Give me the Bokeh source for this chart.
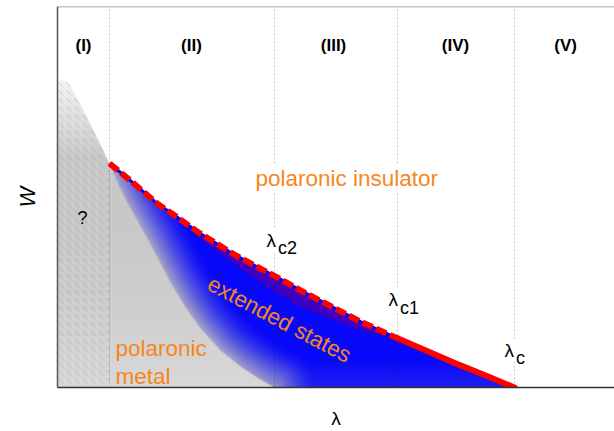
import numpy as np
from bokeh.plotting import figure
from bokeh.models import Range1d, FixedTicker, Span
from bokeh.embed import file_html
from bokeh.resources import INLINE
from bokeh.core.properties import value

# ---------------- data (lambda scaled so that lambda_c = 1, W scaled to frame top = 1) ----------------
lam_max = 1.2188
W_max = 1.0

# region boundaries: lambda_I, lambda_c2, lambda_c1, lambda_c
boundaries = [0.1138, 0.4748, 0.744, 1.0]
region_labels = ["(I)", "(II)", "(III)", "(IV)", "(V)"]
region_label_x = [0.0569, 0.293, 0.604, 0.871, 1.112]

# upper edge of the polaronic-metal (grey) region
metal_lam = [0.0, 0.0131, 0.0241, 0.0503, 0.0832, 0.1138, 0.1335, 0.1532, 0.1991,
             0.2473, 0.2801, 0.3129, 0.3567, 0.4004, 0.4442, 0.4748]
metal_W = [0.806, 0.808, 0.801, 0.743, 0.664, 0.588, 0.532, 0.484, 0.386,
           0.276, 0.210, 0.155, 0.097, 0.055, 0.021, 0.0]

# transition line to the polaronic insulator (red)
ins_lam = [0.1138, 0.1597, 0.2210, 0.2538, 0.3063, 0.3611, 0.3851, 0.4442, 0.4748,
           0.5317, 0.5908, 0.6630, 0.7440, 0.8162, 0.8818, 0.9475, 1.0]
ins_W = [0.588, 0.543, 0.480, 0.454, 0.409, 0.368, 0.350, 0.312, 0.293,
         0.255, 0.218, 0.173, 0.129, 0.092, 0.058, 0.026, 0.0]
n_dashed = 13  # points up to lambda_c1 are drawn dashed

# lower edge of the darker band under the dashed line
band_lam = [0.2691, 0.3129, 0.4004, 0.4748, 0.5317, 0.5974, 0.6630, 0.7440]
band_W = [0.441, 0.389, 0.312, 0.253, 0.213, 0.180, 0.150, 0.129]

# grey shading levels versus W
gray_stop_W = [0.0, 0.25, 0.45, 0.60, 0.70, 0.81]
gray_stop_level = [216, 205, 200, 200, 222, 244]

crit_main = ["λ", "λ", "λ"]
crit_sub = ["c2", "c1", "c"]
crit_x = [0.455, 0.722, 0.976]
crit_y = [0.386, 0.2306, 0.0974]

ORANGE = "#f7861c"
FONT = "Liberation Sans"

# ---------------- figure ----------------
FW, FH = 557, 381
p = figure(width=614, height=431, x_range=Range1d(0, lam_max), y_range=Range1d(0, W_max),
           output_backend="svg", toolbar_location=None,
           min_border_left=57, min_border_right=0, min_border_top=6, min_border_bottom=44)
p.outline_line_color = None
p.xgrid.visible = False
p.ygrid.visible = False
p.background_fill_color = "white"

for ax in (p.xaxis[0], p.yaxis[0]):
    ax.ticker = FixedTicker(ticks=[])
    ax.major_tick_out = 0
    ax.major_tick_in = 0
    ax.minor_tick_out = 0
    ax.minor_tick_in = 0
    ax.major_label_standoff = 0
    ax.axis_label_text_font = FONT
    ax.axis_label_text_color = "black"
p.xaxis.axis_label = "λ"
p.xaxis.axis_label_text_font_style = "normal"
p.xaxis.axis_label_text_font_size = "19px"
p.xaxis.axis_label_standoff = 20
p.xaxis.axis_line_color = "#333333"
p.xaxis.axis_line_width = 1.5
p.yaxis.axis_label = "W"
p.yaxis.axis_label_text_font_style = "italic"
p.yaxis.axis_label_text_font_size = "22px"
p.yaxis.axis_label_standoff = 18
p.yaxis.axis_line_color = "#555555"
p.yaxis.axis_line_width = 1.5
p.add_layout(Span(location=W_max, dimension="width", line_color="#888888", line_width=1.5))

# ---------------- shaded regions as an RGBA image ----------------
sx = FW / lam_max
sy = FH / W_max
lamc = (np.arange(FW) + 0.5) / sx
Wc = (np.arange(FH) + 0.5) / sy
Xp = (np.arange(FW) + 0.5)[None, :]
Yp = (np.arange(FH) + 0.5)[:, None]
mlam = np.array(metal_lam); mW = np.array(metal_W)
ilam = np.array(ins_lam); iW = np.array(ins_W)

Gx = np.interp(lamc, mlam, mW, right=0.0)
gs = np.gradient(Gx, lamc) * sy / sx
dg = (Gx[None, :] - Wc[:, None]) * sy / np.sqrt(1 + gs[None, :] ** 2)
a_g = np.clip(0.5 + dg, 0, 1)

inside = ((lamc >= ilam[0]) & (lamc <= ilam[-1])).astype(float)
Rx = np.interp(lamc, ilam, iW)
rs = np.gradient(Rx, lamc) * sy / sx
dr = (Rx[None, :] - Wc[:, None]) * sy / np.sqrt(1 + rs[None, :] ** 2)
a_b = np.clip(0.5 + dr, 0, 1) * inside[None, :] * (1 - a_g)


def poly_dist(X, Y, xs, ys):
    d = np.full(np.broadcast(X, Y).shape, np.inf)
    for i in range(len(xs) - 1):
        ax_, ay_, bx_, by_ = xs[i], ys[i], xs[i + 1], ys[i + 1]
        vx, vy = bx_ - ax_, by_ - ay_
        L2 = vx * vx + vy * vy
        t = np.clip(((X - ax_) * vx + (Y - ay_) * vy) / L2, 0, 1)
        d = np.minimum(d, np.hypot(X - (ax_ + t * vx), Y - (ay_ + t * vy)))
    return d


dist = poly_dist(Xp, Yp, mlam * sx, mW * sy)
m = np.clip(1 - dist / 42.0, 0, 1) ** 1.5
blue = np.array([8, 8, 250], float)
edge = np.array([165, 165, 200], float)
bottom_tint = np.array([100, 100, 215], float)
purple = np.array([64, 0, 192], float)
col = blue[None, None, :] * (1 - m[..., None]) + edge[None, None, :] * m[..., None]
mb = 0.25 * np.clip(1 - Yp / 30.0, 0, 1)
mb = np.broadcast_to(mb, (FH, FW))
col = col * (1 - mb[..., None]) + bottom_tint[None, None, :] * mb[..., None]
Pb = np.interp(lamc, np.array(band_lam), np.array(band_W), left=np.nan, right=np.nan)
dp = (Wc[:, None] - Pb[None, :]) * sy
a_p = np.nan_to_num(np.clip(0.5 + dp / 2.0, 0, 1), nan=0.0)
col = col * (1 - a_p[..., None]) + purple[None, None, :] * a_p[..., None]

glev = np.interp(Wc, gray_stop_W, gray_stop_level)
gcol = np.repeat(np.repeat(glev[:, None, None], FW, axis=1), 3, axis=2)

tot = a_g + a_b
rgb = (gcol * a_g[..., None] + col * a_b[..., None]) / np.maximum(tot, 1e-6)[..., None]
img = np.zeros((FH, FW), dtype=np.uint32)
view = img.view(dtype=np.uint8).reshape((FH, FW, 4))
view[..., 0:3] = np.clip(rgb, 0, 255).astype(np.uint8)
view[..., 3] = np.clip(tot * 255, 0, 255).astype(np.uint8)
p.image_rgba(image=[img], x=0, y=0, dw=lam_max, dh=W_max)

# hatch over region (I)
k = metal_lam.index(boundaries[0])
hx = metal_lam[:k + 1] + [boundaries[0], 0.0]
hy = metal_W[:k + 1] + [0.0, 0.0]
p.patch(hx, hy, fill_alpha=0, line_alpha=0, hatch_pattern="left_diagonal_dash",
        hatch_color="#666666", hatch_alpha=0.25, hatch_weight=1, hatch_scale=8)

# dotted region boundaries
p.segment(x0=boundaries, y0=[0.0] * 4, x1=boundaries, y1=[W_max] * 4,
          line_color="black", line_alpha=0.22, line_dash="2 2", line_width=1)

# transition lines
p.line(ins_lam[:n_dashed], ins_W[:n_dashed], line_color="#0000ff", line_width=3)
p.line(ins_lam[:n_dashed], ins_W[:n_dashed], line_color="#ff0000", line_width=6, line_dash="11 4")
p.line(ins_lam[n_dashed - 1:], ins_W[n_dashed - 1:], line_color="#ff0000", line_width=6,
       line_cap="round", line_join="round")

# ---------------- texts ----------------
p.text(x=region_label_x, y=[0.8976] * 5, text=region_labels, text_font=value(FONT),
       text_font_style="bold", text_font_size="17px", text_align="center",
       text_baseline="middle", text_color="black")
p.text(x=[0.0547], y=[0.446], text=["?"], text_font=value(FONT), text_font_size="18px",
       text_align="center", text_baseline="alphabetic", text_color="black")
p.text(x=[0.4289], y=[0.5486], text=["polaronic insulator"], text_font=value(FONT),
       text_font_size="22.5px", text_color=ORANGE, text_baseline="alphabetic",
       background_fill_color="white", padding=2)
p.text(x=[0.1269, 0.1269], y=[0.1024, 0.0289], text=["polaronic", "metal"], text_font=value(FONT),
       text_font_size="22.5px", text_color=ORANGE, text_baseline="alphabetic")
p.text(x=[0.4855], y=[0.1785], text=["extended states"], text_font=value(FONT),
       text_font_size="22.5px", text_color=ORANGE, text_align="center", text_baseline="middle",
       angle=-28, angle_units="deg")
p.text(x=crit_x, y=crit_y, text=crit_sub, text_font=value(FONT), text_font_size="18px",
       text_color="black", text_baseline="alphabetic", x_offset=11.5, y_offset=8,
       background_fill_color="white", padding=1)
p.text(x=crit_x, y=crit_y, text=crit_main, text_font=value(FONT), text_font_size="19px",
       text_color="black", text_baseline="alphabetic",
       background_fill_color="white", padding=1)

open("out.html", "w").write(file_html(p, INLINE))
